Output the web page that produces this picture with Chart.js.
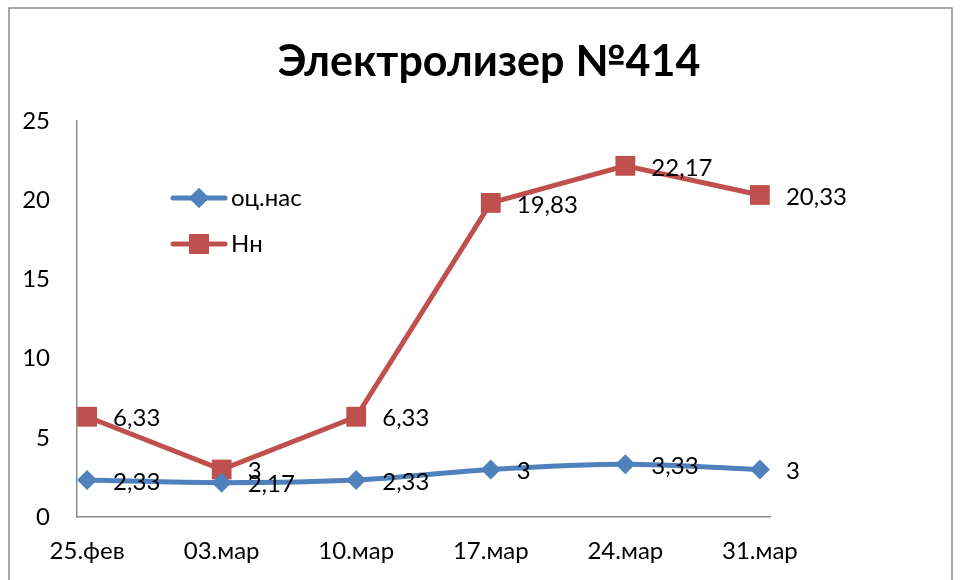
<!DOCTYPE html>
<html>
<head>
<meta charset="utf-8">
<script src="https://cdn.jsdelivr.net/npm/chart.js@4"></script>
<style>
  html, body { margin: 0; padding: 0; background: #fff; }
  #wrap { position: relative; width: 963px; height: 580px; }
</style>
</head>
<body>
<div id="wrap"><canvas id="chart" width="963" height="580"></canvas></div>
<script>
// Dates and measured values
const dates = ['25.фев', '03.мар', '10.мар', '17.мар', '24.мар', '31.мар'];
const ocNas = [2.33, 2.17, 2.33, 3, 3.33, 3];
const hn = [6.33, 3, 6.33, 19.83, 22.17, 20.33];
const yTicks = [0, 5, 10, 15, 20, 25];
const titleText = 'Электролизер №414';

const FONT = 'Lato, "Open Sans", sans-serif';
const BLUE = '#4f81bd';
const RED = '#c0504d';

const fmt = v => String(v).replace('.', ',');

// Frame, title, value labels and the inset legend
const extras = {
  id: 'extras',
  beforeDraw(chart) {
    const ctx = chart.ctx;
    ctx.save();
    ctx.strokeStyle = '#8a8a8a';
    ctx.lineWidth = 1.5;
    ctx.strokeRect(9, 8, 943, 620);
    ctx.fillStyle = '#000';
    ctx.font = 'bold 43px ' + FONT;
    ctx.textAlign = 'center';
    ctx.textBaseline = 'middle';
    ctx.fillText(titleText, 489, 62);
    ctx.restore();
  },
  afterDatasetsDraw(chart) {
    const ctx = chart.ctx;
    ctx.save();
    ctx.fillStyle = '#000';
    ctx.font = '24px ' + FONT;
    ctx.textAlign = 'left';
    ctx.textBaseline = 'middle';
    chart.data.datasets.forEach((ds, i) => {
      const meta = chart.getDatasetMeta(i);
      meta.data.forEach((pt, j) => {
        ctx.fillText(fmt(ds.data[j].y), pt.x + 26, pt.y + 2);
      });
    });

    // legend
    const rows = [198, 244];
    chart.data.datasets.forEach((ds, i) => {
      const y = rows[i];
      ctx.strokeStyle = ds.borderColor;
      ctx.lineWidth = 5;
      ctx.lineCap = 'round';
      ctx.beginPath();
      ctx.moveTo(173, y);
      ctx.lineTo(225, y);
      ctx.stroke();
      ctx.fillStyle = ds.pointBackgroundColor;
      Chart.helpers.drawPoint(ctx, {
        pointStyle: ds.pointStyle,
        radius: ds.pointRadius,
        borderWidth: 0,
        rotation: 0
      }, 199, y);
      ctx.fill();
      ctx.fillStyle = '#000';
      ctx.fillText(ds.label, 231, y);
    });
    ctx.restore();
  }
};

new Chart(document.getElementById('chart'), {
  type: 'line',
  data: {
    datasets: [
      {
        label: 'оц.нас',
        data: ocNas.map((v, i) => ({ x: i, y: v })),
        borderColor: BLUE,
        backgroundColor: BLUE,
        pointBackgroundColor: BLUE,
        pointBorderColor: BLUE,
        borderWidth: 5,
        pointStyle: 'rectRot',
        pointRadius: 10,
        pointBorderWidth: 0,
        tension: 0.3
      },
      {
        label: 'Нн',
        data: hn.map((v, i) => ({ x: i, y: v })),
        borderColor: RED,
        backgroundColor: RED,
        pointBackgroundColor: RED,
        pointBorderColor: RED,
        borderWidth: 5,
        pointStyle: 'rect',
        pointRadius: 14,
        pointBorderWidth: 0,
        tension: 0
      }
    ]
  },
  options: {
    responsive: false,
    animation: false,
    layout: { padding: { top: 121, right: 193, left: 0, bottom: 0 } },
    plugins: {
      legend: { display: false },
      title: { display: false },
      tooltip: { enabled: false }
    },
    scales: {
      x: {
        type: 'linear',
        min: -0.075,
        max: 5.075,
        afterBuildTicks: s => { s.ticks = dates.map((d, i) => ({ value: i })); },
        afterFit: s => { s.height = 63; },
        grid: { display: false, drawTicks: false },
        border: { color: '#8c8c8c', width: 1.5 },
        ticks: {
          callback: v => dates[v],
          color: '#000',
          font: { family: FONT, size: 24 },
          padding: 20,
          maxRotation: 0,
          autoSkip: false
        }
      },
      y: {
        min: 0,
        max: 25,
        afterBuildTicks: s => { s.ticks = yTicks.map(v => ({ value: v })); },
        afterFit: s => { s.width = 77; },
        grid: { display: false, drawTicks: false },
        border: { color: '#8c8c8c', width: 1.5 },
        ticks: {
          color: '#000',
          font: { family: FONT, size: 24 },
          padding: 27
        }
      }
    }
  },
  plugins: [extras]
});
</script>
</body>
</html>
